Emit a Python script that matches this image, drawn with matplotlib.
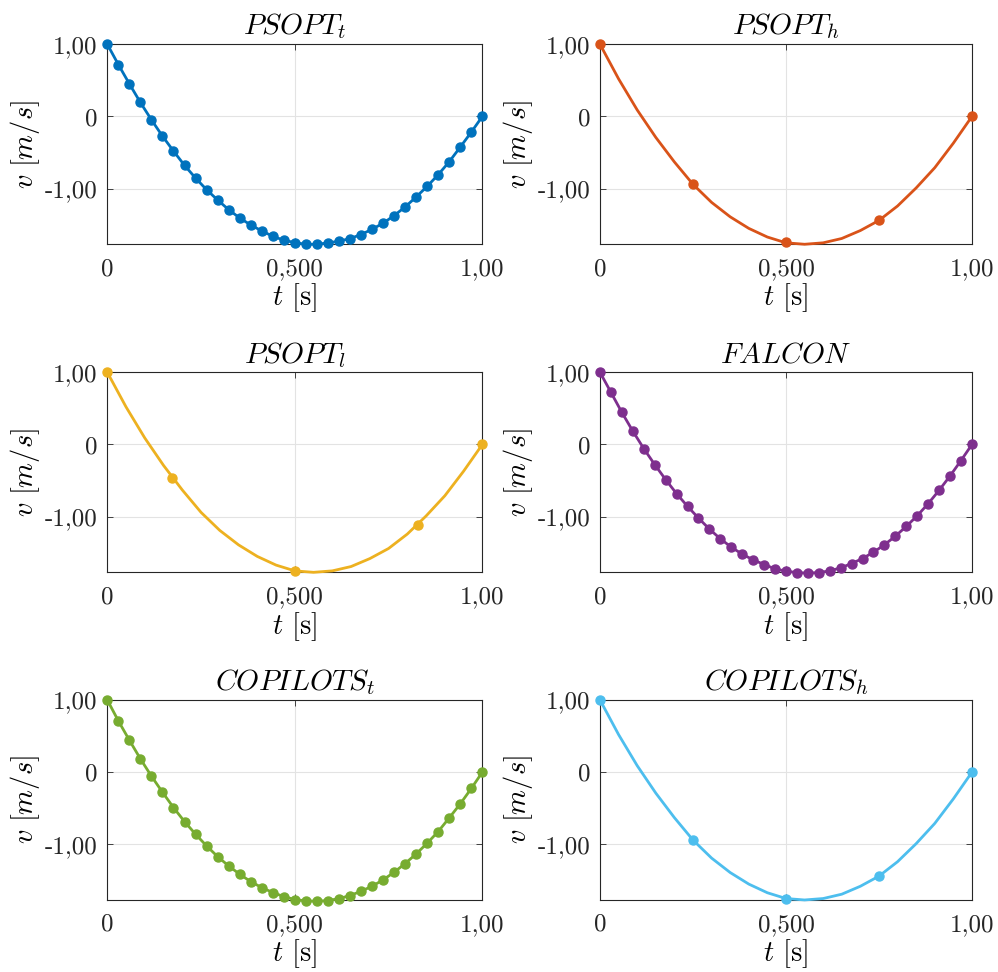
import numpy as np
import matplotlib.pyplot as plt

# -----------------------------------------
# Valeurs
# -----------------------------------------
t_n = np.linspace(0, 1, 35)                     # 35 noeuds équidistants
v_psopt_t = [1.00, 0.719, 0.452, 0.194, -0.046, -0.272, -0.479, -0.677, -0.853,
             -1.014, -1.157, -1.290, -1.406, -1.502, -1.585, -1.659, -1.714, -1.747,
             -1.770, -1.770, -1.751, -1.728, -1.691, -1.636, -1.562, -1.479, -1.373,
             -1.253, -1.115, -0.968, -0.806, -0.627, -0.424, -0.217, 0.0]
v_falcon = [1.00, 0.722, 0.444, 0.185, -0.056, -0.278, -0.486, -0.681, -0.856,
            -1.019, -1.171, -1.306, -1.421, -1.519, -1.597, -1.662, -1.722, -1.755,
            -1.773, -1.782, -1.773, -1.750, -1.708, -1.648, -1.579, -1.491, -1.389,
            -1.269, -1.134, -0.986, -0.819, -0.634, -0.435, -0.222, 0.0]
v_copilots_t = [1.00, 0.711, 0.443, 0.185, -0.055, -0.277, -0.490, -0.684, -0.859,
                -1.021, -1.169, -1.298, -1.413, -1.515, -1.598, -1.667, -1.723, -1.764,
                -1.783, -1.788, -1.778, -1.751, -1.709, -1.649, -1.580, -1.492, -1.386,
                -1.266, -1.132, -0.984, -0.822, -0.633, -0.439, -0.226, 0.0]

t_h = [0.0, 0.25, 0.5, 0.75, 1.0]               # noeuds PSOPT_h / COPILOTS_h
v_psopt_h = [1.00, -0.935, -1.745, -1.435, 0.0]
v_copilots_h = [1.00, -0.942, -1.755, -1.437, 0.0]
t_l = [0.0, 0.1727, 0.5, 0.8273, 1.0]           # noeuds PSOPT_l
v_psopt_l = [1.00, -0.458, -1.755, -1.116, 0.0]

t_c = np.linspace(0, 1, 21)                     # courbe lisse tracée entre les noeuds
v_courbe = [1.00, 0.52, 0.09, -0.29, -0.63, -0.94, -1.19, -1.39, -1.55, -1.67, -1.75,
            -1.77, -1.75, -1.69, -1.58, -1.44, -1.24, -0.99, -0.71, -0.37, 0.0]

titres = ["$PSOPT_t$", "$PSOPT_h$", "$PSOPT_l$", "$FALCON$", "$COPILOTS_t$", "$COPILOTS_h$"]
couleurs = ["#0072BD", "#D95319", "#EDB120", "#7E2F8E", "#77AC30", "#4DBEEE"]
xticks = [0, 0.5, 1]
xtick_labels = ["0", "0,500", "1,00"]
yticks = [-1, 0, 1]
ytick_labels = ["-1,00", "0", "1,00"]

# -----------------------------------------
# Style
# -----------------------------------------
plt.rcParams["font.family"] = "serif"
plt.rcParams["font.serif"] = ["cmr10"]
plt.rcParams["mathtext.fontset"] = "cm"
plt.rcParams["axes.unicode_minus"] = False
plt.rcParams["font.size"] = 18

fig = plt.figure(figsize=(9.98, 9.72), dpi=100)

pos = [[0.1075, 0.7487, 0.3758, 0.2058], [0.6012, 0.7487, 0.3727, 0.2058],
       [0.1075, 0.4112, 0.3758, 0.2058], [0.6012, 0.4112, 0.3727, 0.2058],
       [0.1075, 0.0741, 0.3758, 0.2058], [0.6012, 0.0741, 0.3727, 0.2058]]

series = [
    (t_n, v_psopt_t, None, None),
    (t_h, v_psopt_h, t_c, v_courbe),
    (t_l, v_psopt_l, t_c, v_courbe),
    (t_n, v_falcon, None, None),
    (t_n, v_copilots_t, None, None),
    (t_h, v_copilots_h, t_c, v_courbe),
]

for i, (tm, vm, tl, vl) in enumerate(series):
    ax = fig.add_axes(pos[i])
    c = couleurs[i]
    if tl is None:
        ax.plot(tm, vm, "-o", color=c, lw=2, ms=6.5, clip_on=False, zorder=3)
    else:
        ax.plot(tl, vl, "-", color=c, lw=2, clip_on=False, zorder=3)
        ax.plot(tm, vm, "o", color=c, ms=6.5, clip_on=False, zorder=4)
    ax.set_xlim(0, 1)
    ax.set_ylim(-1.77, 1)
    ax.set_xticks(xticks)
    ax.set_xticklabels(xtick_labels)
    ax.set_yticks(yticks)
    ax.set_yticklabels(ytick_labels)
    ax.grid(True, color="#e3e3e3", lw=0.8)
    ax.set_axisbelow(True)
    ax.tick_params(direction="in", top=True, right=True, length=4, width=0.6,
                   color="#262626", labelcolor="#262626")
    ax.tick_params(axis="x", pad=10)
    ax.tick_params(axis="y", pad=7)
    for s in ax.spines.values():
        s.set_color("#262626")
        s.set_linewidth(0.8)
    ax.set_title(titres[i], fontsize=21, pad=7)
    ax.set_xlabel("$t$ [s]", fontsize=20.5, labelpad=1)
    ax.set_ylabel("$v\\ [m/s]$", fontsize=20.5, labelpad=2)

plt.savefig("out.png", dpi=100)
